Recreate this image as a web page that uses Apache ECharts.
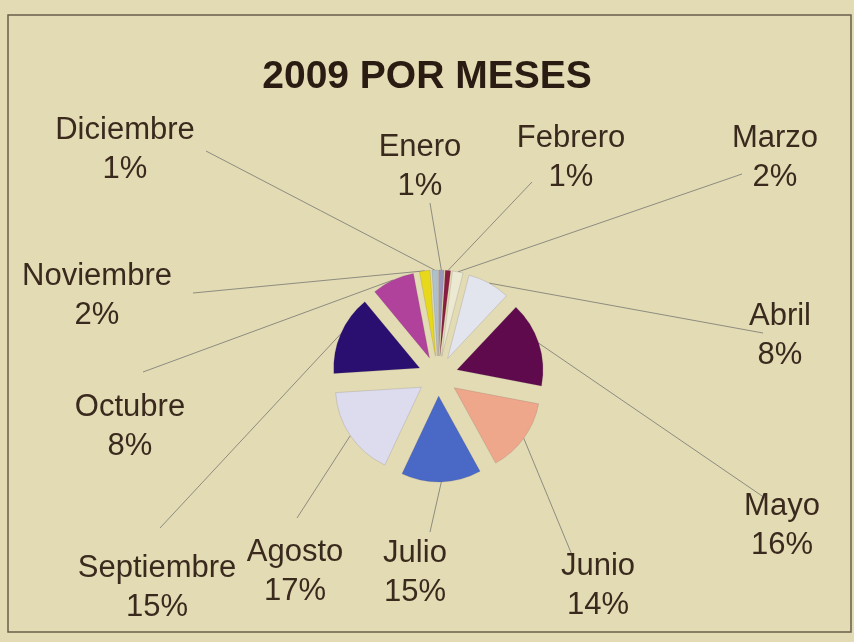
<!DOCTYPE html>
<html>
<head>
<meta charset="utf-8">
<script src="https://cdn.jsdelivr.net/npm/echarts@6/dist/echarts.min.js"></script>
<style>
  html, body { margin: 0; padding: 0; background: #e2dbb3; }
  #chart { width: 854px; height: 642px; }
</style>
</head>
<body>
<div id="chart"></div>
<script>
  // datos
  const months = ['Enero', 'Febrero', 'Marzo', 'Abril', 'Mayo', 'Junio',
    'Julio', 'Agosto', 'Septiembre', 'Octubre', 'Noviembre', 'Diciembre'];
  const percents = [1, 1, 2, 8, 16, 14, 15, 17, 15, 8, 2, 1];

  // colores de cada porcion
  const sliceColors = ['#9c98bc', '#8a1c40', '#ece9d2', '#e2e5ee', '#5e0a4c', '#eea78a',
    '#4a68c6', '#dcdcee', '#2a0e70', '#b0429c', '#e8d81c', '#aec2cc'];

  // donde va cada etiqueta (centro del texto)
  const labelPos = [
    [420, 167], [571, 158], [775, 158], [780, 336], [782, 526], [598, 586],
    [415, 573], [295, 572], [157, 588], [130, 427], [97, 296], [125, 150]
  ];
  // punto donde termina la linea guia junto a la etiqueta
  const lineEnd = [
    [430, 203], [532, 182], [742, 174], [763, 333], [765, 498], [572, 555],
    [430, 532], [297, 518], [160, 528], [143, 372], [193, 293], [206, 151]
  ];

  const chart = echarts.init(document.getElementById('chart'));

  const pieCenter = [438, 376];
  const pieRadius = 86;
  const explode = 20;

  const option = {
    backgroundColor: '#e2dbb3',
    title: {
      text: '2009 POR MESES',
      left: 'center',
      top: 53,
      textStyle: {
        fontFamily: 'Liberation Sans',
        fontSize: 39,
        fontWeight: 'bold',
        color: '#2a1c12'
      }
    },
    graphic: [{
      type: 'rect',
      shape: { x: 8, y: 15, width: 843, height: 617 },
      style: { fill: 'none', stroke: '#6a5f4c', lineWidth: 1.5 },
      silent: true
    }],
    series: [
      // porciones separadas (sin etiquetas)
      {
        type: 'pie',
        center: pieCenter,
        radius: pieRadius,
        startAngle: 90,
        clockwise: true,
        selectedMode: 'multiple',
        selectedOffset: explode,
        animation: false,
        silent: true,
        z: 3,
        itemStyle: { borderColor: 'rgba(90,80,90,0.35)', borderWidth: 0.5 },
        label: { show: false },
        labelLine: { show: false },
        data: months.map((m, i) => ({
          name: m,
          value: percents[i],
          selected: true,
          itemStyle: { color: sliceColors[i] }
        }))
      },
      // solo etiquetas y lineas guia
      {
        type: 'pie',
        center: pieCenter,
        radius: pieRadius,
        startAngle: 90,
        clockwise: true,
        animation: false,
        silent: true,
        z: 2,
        itemStyle: { color: 'rgba(0,0,0,0)' },
        label: {
          show: true,
          fontFamily: 'Liberation Sans',
          fontSize: 31,
          lineHeight: 39,
          color: '#3a2a1e',
          align: 'center',
          formatter: p => p.name + '\n' + p.value + '%'
        },
        labelLine: {
          show: true,
          length: 10,
          length2: 10,
          lineStyle: { color: '#8e8c80', width: 1 }
        },
        labelLayout: params => {
          const i = params.dataIndex;
          const pos = labelPos[i];
          const res = { x: pos[0], y: pos[1], align: 'center', verticalAlign: 'middle' };
          const p0 = params.labelLinePoints && params.labelLinePoints[0];
          if (p0) {
            // mover el inicio de la linea al borde de la porcion separada
            const dx = p0[0] - pieCenter[0];
            const dy = p0[1] - pieCenter[1];
            const len = Math.sqrt(dx * dx + dy * dy) || 1;
            const s = [p0[0] + dx / len * explode, p0[1] + dy / len * explode];
            const e = lineEnd[i];
            res.labelLinePoints = [s, [(s[0] + e[0]) / 2, (s[1] + e[1]) / 2], e];
          }
          return res;
        },
        data: months.map((m, i) => ({ name: m, value: percents[i] }))
      }
    ]
  };

  chart.setOption(option);
</script>
</body>
</html>
